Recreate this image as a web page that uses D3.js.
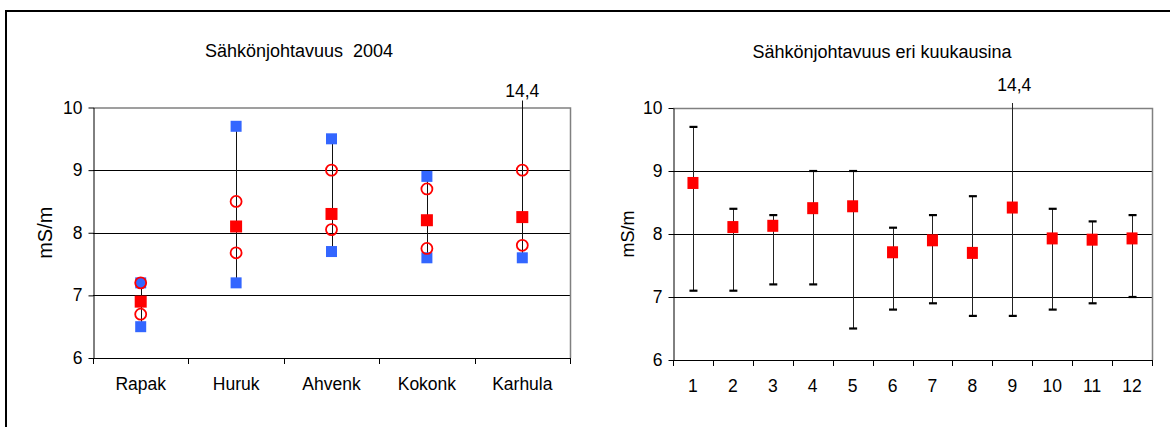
<!DOCTYPE html>
<html>
<head>
<meta charset="utf-8">
<script src="https://cdn.jsdelivr.net/npm/d3@7"></script>
<style>
  body { margin: 0; background: #fff; }
  svg { display: block; font-family: "Liberation Sans", Arial, sans-serif; }
</style>
</head>
<body>
<svg id="chart" width="1174" height="427"></svg>
<script>
// values
const yTicks = [6, 7, 8, 9, 10];
const overflowLabel = '14,4';

const sites = ['Rapak', 'Huruk', 'Ahvenk', 'Kokonk', 'Karhula'];
const siteMean = [6.9, 8.1, 8.3, 8.2, 8.25];
const siteMax = [7.2, 9.7, 9.5, 8.9, 14.4];
const siteMin = [6.5, 7.2, 7.7, 7.6, 7.6];
const siteUpper = [7.2, 8.5, 9.0, 8.7, 9.0];
const siteLower = [6.7, 7.68, 8.05, 7.75, 7.8];

const months = ['1', '2', '3', '4', '5', '6', '7', '8', '9', '10', '11', '12'];
const monthMean = [8.81, 8.11, 8.13, 8.41, 8.44, 7.71, 7.9, 7.7, 8.42, 7.93, 7.91, 7.93];
const monthMax = [9.7, 8.4, 8.3, 9.0, 9.0, 8.1, 8.3, 8.6, 14.4, 8.4, 8.2, 8.3];
const monthMin = [7.1, 7.1, 7.2, 7.2, 6.5, 6.8, 6.9, 6.7, 6.7, 6.8, 6.9, 7.0];

const svg = d3.select('#chart');

// outer frame (only top and left visible)
svg.append('path')
  .attr('d', 'M6,427V11H1170')
  .attr('fill', 'none')
  .attr('stroke', '#000')
  .attr('stroke-width', 2);

function setupPanel(opt) {
  const g = svg.append('g');
  const x = d3.scaleBand().domain(opt.categories).range([opt.left, opt.right]).padding(0);
  const y = d3.scaleLinear().domain([6, 10]).range([opt.bottom, opt.top]);

  g.append('text')
    .attr('x', opt.titleX).attr('y', opt.titleY)
    .attr('text-anchor', 'middle')
    .attr('font-size', opt.titleSize)
    .attr('fill', '#000')
    .style('white-space', 'pre')
    .text(opt.title);

  // gridlines
  g.append('g')
    .selectAll('line')
    .data(yTicks.filter((d) => d > 6 && d < 10))
    .enter().append('line')
    .attr('x1', opt.left).attr('x2', opt.right)
    .attr('y1', (d) => Math.round(y(d)) + 0.5).attr('y2', (d) => Math.round(y(d)) + 0.5)
    .attr('stroke', '#000');

  // plot frame top/right
  g.append('path')
    .attr('d', `M${opt.left},${opt.top + 0.5}H${opt.right + 0.5}V${opt.bottom}`)
    .attr('fill', 'none')
    .attr('stroke', '#808080')
    .attr('stroke-width', 1.5);

  // y axis
  const yAxis = d3.axisLeft(y).tickValues(yTicks).tickFormat(d3.format('d'))
    .tickSize(5).tickSizeOuter(0).tickPadding(6);
  const ya = g.append('g')
    .attr('transform', `translate(${opt.left + 0.5},0)`)
    .call(yAxis);
  ya.select('.domain').attr('stroke', '#000');
  ya.selectAll('text').attr('font-size', 17.5).attr('fill', '#000')
    .attr('font-family', '"Liberation Sans", Arial, sans-serif');

  // x axis: labels at band centres, ticks at band edges
  const xAxis = d3.axisBottom(x).tickSize(0).tickPadding(19);
  const xa = g.append('g')
    .attr('transform', `translate(0,${opt.bottom + 0.5})`)
    .call(xAxis);
  xa.select('.domain').remove();
  xa.selectAll('text').attr('font-size', opt.catSize).attr('fill', '#000')
    .attr('font-family', '"Liberation Sans", Arial, sans-serif');
  const edges = opt.categories.map((c) => x(c)).concat([x.range()[1]]);
  g.append('g').selectAll('line')
    .data(edges)
    .enter().append('line')
    .attr('x1', (d) => Math.round(d) + 0.5).attr('x2', (d) => Math.round(d) + 0.5)
    .attr('y1', opt.bottom).attr('y2', opt.bottom + 6)
    .attr('stroke', '#000');
  g.append('line')
    .attr('x1', opt.left).attr('x2', opt.right + 1)
    .attr('y1', opt.bottom + 0.5).attr('y2', opt.bottom + 0.5)
    .attr('stroke', '#000');

  // axis title
  g.append('text')
    .attr('transform', `translate(${opt.unitX},${(opt.top + opt.bottom) / 2}) rotate(-90)`)
    .attr('text-anchor', 'middle')
    .attr('dy', '0.35em')
    .attr('font-size', opt.unitSize)
    .attr('fill', '#000')
    .text('mS/m');

  return { g, x, y };
}

// ---- left panel: sites 2004 ----
const p1 = setupPanel({
  categories: sites, left: 93, right: 570, top: 107.5, bottom: 358,
  title: 'Sähkönjohtavuus  2004', titleX: 299, titleY: 56.5, titleSize: 18,
  catSize: 17.5, unitX: 45, unitSize: 20
});
{
  const { g, x, y } = p1;
  const cx = (i) => x(sites[i]) + x.bandwidth() / 2;
  const capTop = y(10) - 7;
  const rows = sites.map((s, i) => i);

  g.append('g').selectAll('line').data(rows).enter().append('line')
    .attr('x1', (i) => Math.round(cx(i)) + 0.5).attr('x2', (i) => Math.round(cx(i)) + 0.5)
    .attr('y1', (i) => y(siteMin[i]))
    .attr('y2', (i) => Math.max(y(siteMax[i]), capTop))
    .attr('stroke', '#111');

  rows.filter((i) => siteMax[i] > 10).forEach((i) => {
    g.append('text')
      .attr('x', cx(i)).attr('y', capTop - 4)
      .attr('text-anchor', 'middle').attr('font-size', 17.5).attr('fill', '#000')
      .text(overflowLabel);
  });

  const blue = [];
  rows.forEach((i) => {
    if (siteMax[i] <= 10) blue.push({ i, v: siteMax[i] });
    blue.push({ i, v: siteMin[i] });
  });
  g.append('g').selectAll('rect').data(blue).enter().append('rect')
    .attr('x', (d) => cx(d.i) - 5.5).attr('y', (d) => y(d.v) - 5.5)
    .attr('width', 11).attr('height', 11)
    .attr('fill', '#3366ff');

  g.append('g').selectAll('rect').data(rows).enter().append('rect')
    .attr('x', (i) => cx(i) - 6).attr('y', (i) => y(siteMean[i]) - 6)
    .attr('width', 12).attr('height', 12)
    .attr('fill', '#ff0000');

  const rings = [];
  rows.forEach((i) => { rings.push({ i, v: siteUpper[i] }); rings.push({ i, v: siteLower[i] }); });
  g.append('g').selectAll('circle').data(rings).enter().append('circle')
    .attr('cx', (d) => cx(d.i)).attr('cy', (d) => y(d.v))
    .attr('r', 5.5)
    .attr('fill', 'none')
    .attr('stroke', '#ff0000')
    .attr('stroke-width', 1.8);
}

// ---- right panel: months ----
const p2 = setupPanel({
  categories: months, left: 673, right: 1152, top: 108, bottom: 360,
  title: 'Sähkönjohtavuus eri kuukausina', titleX: 882, titleY: 58, titleSize: 18,
  catSize: 17.5, unitX: 628, unitSize: 18
});
{
  const { g, x, y } = p2;
  const cx = (i) => x(months[i]) + x.bandwidth() / 2;
  const capTop = y(10) - 5;
  const rows = months.map((m, i) => i);

  g.append('g').selectAll('line').data(rows).enter().append('line')
    .attr('x1', (i) => Math.round(cx(i)) + 0.5).attr('x2', (i) => Math.round(cx(i)) + 0.5)
    .attr('y1', (i) => y(monthMin[i]))
    .attr('y2', (i) => Math.max(y(monthMax[i]), capTop))
    .attr('stroke', '#222');

  const caps = [];
  rows.forEach((i) => {
    if (monthMax[i] <= 10) caps.push({ i, v: monthMax[i] });
    caps.push({ i, v: monthMin[i] });
  });
  g.append('g').selectAll('line').data(caps).enter().append('line')
    .attr('x1', (d) => cx(d.i) - 3.5).attr('x2', (d) => cx(d.i) + 4.5)
    .attr('y1', (d) => y(d.v)).attr('y2', (d) => y(d.v))
    .attr('stroke', '#000').attr('stroke-width', 2.2);

  rows.filter((i) => monthMax[i] > 10).forEach((i) => {
    g.append('text')
      .attr('x', cx(i) + 2).attr('y', capTop - 12)
      .attr('text-anchor', 'middle').attr('font-size', 17.5).attr('fill', '#000')
      .text(overflowLabel);
  });

  g.append('g').selectAll('rect').data(rows).enter().append('rect')
    .attr('x', (i) => cx(i) - 5.5).attr('y', (i) => y(monthMean[i]) - 6)
    .attr('width', 11).attr('height', 12)
    .attr('fill', '#ff0000');
}
</script>
</body>
</html>
